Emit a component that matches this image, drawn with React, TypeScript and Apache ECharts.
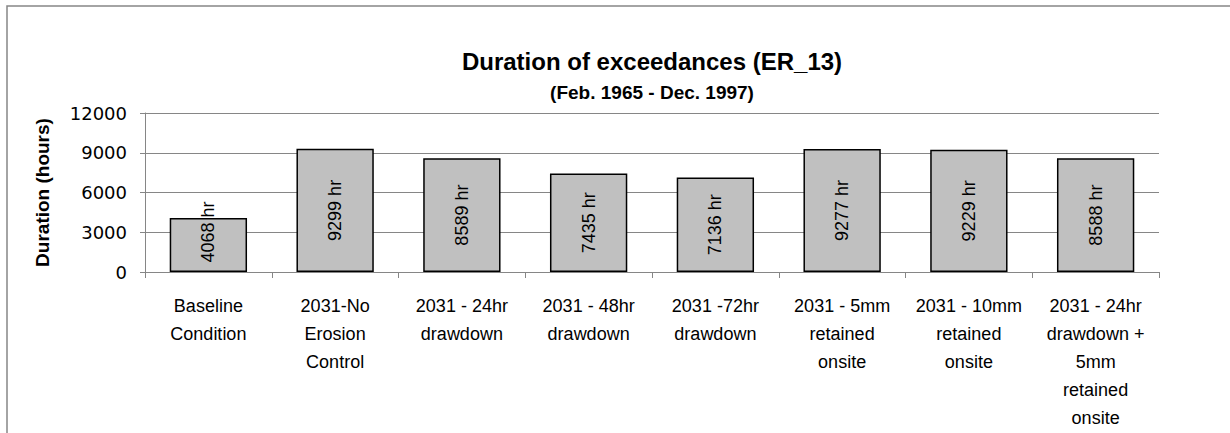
import React, { useEffect, useRef } from "react";
import * as echarts from "echarts";

const categories = [
  "Baseline\nCondition",
  "2031-No\nErosion\nControl",
  "2031 - 24hr\ndrawdown",
  "2031 - 48hr\ndrawdown",
  "2031 -72hr\ndrawdown",
  "2031 - 5mm\nretained\nonsite",
  "2031 - 10mm\nretained\nonsite",
  "2031 - 24hr\ndrawdown +\n5mm\nretained\nonsite",
];
const durations = [4068, 9299, 8589, 7435, 7136, 9277, 9229, 8588];
const yTicks = { min: 0, max: 12000, interval: 3000 };
const titleText = "Duration of exceedances (ER_13)";
const subtitleText = "(Feb. 1965 - Dec. 1997)";
const yAxisName = "Duration (hours)";

const FONT = "'Liberation Sans', Arial, sans-serif";

export default function App() {
  const ref = useRef<HTMLDivElement>(null);
  useEffect(() => {
    if (!ref.current) return;
    const chart = echarts.init(ref.current, undefined, { renderer: "svg" });
    chart.setOption({
      animation: false,
      backgroundColor: "#ffffff",
      textStyle: { fontFamily: FONT },
      graphic: [
        {
          type: "rect",
          shape: { x: 7, y: 6, width: 1400, height: 600 },
          style: { fill: "none", stroke: "#868686", lineWidth: 1.5 },
          silent: true,
        },
        {
          type: "text",
          x: 652,
          y: 61,
          style: {
            text: titleText,
            textAlign: "center",
            textVerticalAlign: "middle",
            font: `bold 24px ${FONT}`,
            fill: "#000",
          },
        },
        {
          type: "text",
          x: 652,
          y: 92,
          style: {
            text: subtitleText,
            textAlign: "center",
            textVerticalAlign: "middle",
            font: `bold 19px ${FONT}`,
            fill: "#000",
          },
        },
      ],
      grid: { left: 145, right: 71, top: 113, bottom: 161, containLabel: false },
      xAxis: {
        type: "category",
        data: categories,
        axisLine: { lineStyle: { color: "#868686", width: 1 } },
        axisTick: { show: true, length: 6, lineStyle: { color: "#868686" } },
        axisLabel: {
          interval: 0,
          margin: 20,
          fontSize: 18,
          lineHeight: 28,
          color: "#000",
          fontFamily: FONT,
        },
      },
      yAxis: {
        type: "value",
        min: yTicks.min,
        max: yTicks.max,
        interval: yTicks.interval,
        name: yAxisName,
        nameLocation: "middle",
        nameGap: 93,
        nameTextStyle: { fontSize: 19, fontWeight: "bold", color: "#000", fontFamily: FONT },
        axisLine: { show: true, lineStyle: { color: "#868686", width: 1 } },
        axisTick: { show: true, length: 5, lineStyle: { color: "#868686" } },
        axisLabel: {
          margin: 18,
          fontSize: 18,
          color: "#000",
          fontFamily: "'DejaVu Sans', sans-serif",
          formatter: (v: number) => String(v),
        },
        splitLine: { lineStyle: { color: "#868686", width: 1 } },
      },
      series: [
        {
          type: "bar",
          barCategoryGap: "39%",
          data: durations.map((v, i) =>
            i === 0 ? { value: v, label: { offset: [13, 0] } } : { value: v }
          ),
          itemStyle: { color: "#c0c0c0", borderColor: "#000", borderWidth: 1.5 },
          label: {
            show: true,
            position: "inside",
            rotate: 90,
            formatter: (p: any) => `${p.value} hr`,
            fontSize: 18,
            color: "#000",
            fontFamily: FONT,
          },
        },
      ],
    });
    return () => chart.dispose();
  }, []);
  return (
    <div
      ref={ref}
      style={{ position: "fixed", left: 0, top: 0, width: 1230, height: 433 }}
    />
  );
}
